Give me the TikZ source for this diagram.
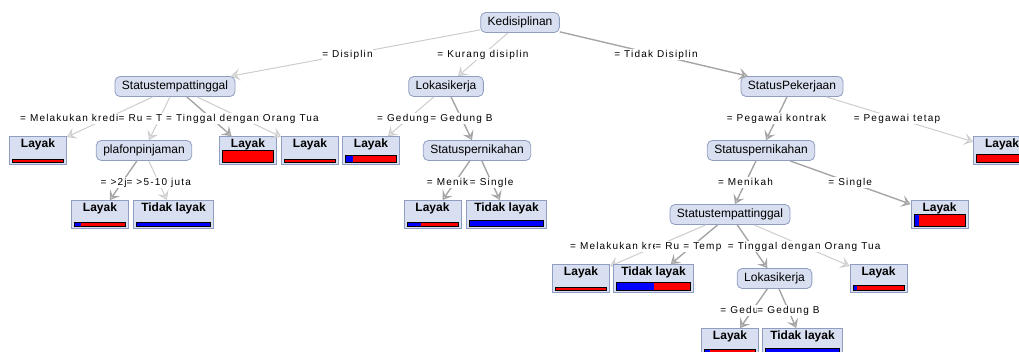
\documentclass[tikz,border=0pt]{standalone}
\usepackage{fontspec}
\setmainfont{Liberation Sans}
\newfontfamily\edgefont[LetterSpace=12]{Liberation Sans}
\usetikzlibrary{arrows.meta,calc}
\definecolor{nodefill}{RGB}{216,223,240}
\definecolor{nodeline}{RGB}{143,157,192}
\definecolor{edgelight}{RGB}{205,205,205}
\definecolor{edgedark}{RGB}{165,165,165}
\definecolor{tipfill}{RGB}{235,235,235}

% class distribution bar at the foot of a leaf: node, share of blue, bar height
\newcommand\leafbar[3]{%
  \fill[red] let \p1=(#1.south west), \p2=(#1.south east) in
    (\x1+3.5pt,\y1+2.5pt) rectangle (\x2-3.5pt,\y1+2.5pt+#3pt);
  \fill[blue] let \p1=(#1.south west), \p2=(#1.south east) in
    (\x1+3.5pt,\y1+2.5pt) rectangle ({\x1+3.5pt+#2*(\x2-\x1-7pt)},\y1+2.5pt+#3pt);
  \draw[black, line width=0.8pt] let \p1=(#1.south west), \p2=(#1.south east) in
    (\x1+3.5pt,\y1+2.5pt) rectangle (\x2-3.5pt,\y1+2.5pt+#3pt);
}

\begin{document}
\begin{tikzpicture}
[
    x=1pt, y=-1pt,
    grow=down, level distance=64pt, sibling distance=0pt,
    attr/.style={draw=nodeline, fill=nodefill, rounded corners=5pt, line width=0.8pt,
        minimum height=20pt, inner xsep=7pt, text height=8.8pt, text depth=2.6pt,
        font=\fontsize{12}{14}\selectfont},
    leaf/.style={draw=nodeline, fill=nodefill, line width=0.8pt, minimum width=57pt,
        inner xsep=8pt, inner ysep=2pt, text height=9pt, text depth=15pt,
        font=\bfseries\fontsize{12}{14}\selectfont},
    edge from parent/.style={draw=edgelight, line width=1pt,
        -{Stealth[length=9pt, width=12pt, inset=4pt, fill=tipfill]}},
    heavy/.style={draw=edgedark, line width=1.4pt},
    lbl/.style={midway, fill=white, inner xsep=0.5pt, inner ysep=1pt,
        text height=7.5pt, text depth=2pt, font=\edgefont\fontsize{10}{12}\selectfont},
    cut/.style={anchor=west, xshift=-#1},
]
\useasboundingbox (0,0) rectangle (1019,351);
\clip (0,0) rectangle (1019,351);

\node [attr] (kedisiplinan) at (520,22.5) {Kedisiplinan}
    child[xshift=-345pt] {node[attr] (stt1) {Statustempattinggal}
        child[xshift=-137pt] {node[leaf] (layak1) {Layak}}
        child[xshift=-31pt] {node[attr] (plafon) {plafonpinjaman}
            child[xshift=-44pt] {node[leaf] (layak2) {Layak} edge from parent[heavy]}
            child[xshift=29.5pt] {node[leaf] (tidak1) {Tidak layak}}}
        child[xshift=73pt] {node[leaf] (layak3) {Layak} edge from parent[heavy]}
        child[xshift=135pt] {node[leaf] (layak4) {Layak}}}
    child[xshift=-74pt] {node[attr] (lokasi1) {Lokasikerja}
        child[xshift=-75pt] {node[leaf] (layak5) {Layak}}
        child[xshift=31pt] {node[attr] (nikah1) {Statuspernikahan}
            child[xshift=-44.5pt] {node[leaf] (layak6) {Layak} edge from parent[heavy]}
            child[xshift=29.5pt] {node[leaf] (tidak2) {Tidak layak} edge from parent[heavy]}
            edge from parent[heavy]}}
    child[xshift=272pt] {node[attr] (pekerjaan) {StatusPekerjaan}
        child[xshift=-31pt] {node[attr] (nikah2) {Statuspernikahan}
            child[xshift=-31pt] {node[attr] (stt2) {Statustempattinggal}
                child[xshift=-149pt] {node[leaf] (layak8) {Layak}}
                child[xshift=-76.5pt] {node[leaf] (tidak3) {Tidak layak} edge from parent[heavy]}
                child[xshift=44.5pt] {node[attr] (lokasi2) {Lokasikerja}
                    child[xshift=-44.5pt] {node[leaf] (layak10) {Layak} edge from parent[heavy]}
                    child[xshift=28pt] {node[leaf] (tidak4) {Tidak layak} edge from parent[heavy]}
                    edge from parent[heavy]}
                child[xshift=148.5pt] {node[leaf] (layak9) {Layak}}
                edge from parent[heavy]}
            child[xshift=178.5pt] {node[leaf] (layak11) {Layak} edge from parent[heavy]}
            edge from parent[heavy]}
        child[xshift=210pt] {node[leaf] (layak7) {Layak}}
        edge from parent[heavy]};

% split values, half way between the centres
\path (kedisiplinan.center) -- (stt1.center) node[lbl] {= Disiplin};
\path (kedisiplinan.center) -- (lokasi1.center) node[lbl] {= Kurang disiplin};
\path (kedisiplinan.center) -- (pekerjaan.center) node[lbl] {= Tidak Disiplin};
\path (stt1.center) -- (layak1.center) node[lbl, cut=87pt] {= Melakukan kredi};
\path (stt1.center) -- (plafon.center) node[lbl, cut=41.5pt] {= Ru};
\path (stt1.center) -- (layak3.center) node[lbl, cut=66pt] {= T};
\path (stt1.center) -- (layak4.center) node[lbl] {= Tinggal dengan Orang Tua};
\path (plafon.center) -- (layak2.center) node[lbl, cut=22pt] {= >2j};
\path (plafon.center) -- (tidak1.center) node[lbl] {= >5-10 juta};
\path (lokasi1.center) -- (layak5.center) node[lbl, cut=32pt] {= Gedung};
\path (lokasi1.center) -- (nikah1.center) node[lbl] {= Gedung B};
\path (nikah1.center) -- (layak6.center) node[lbl, cut=28.5pt] {= Menik};
\path (nikah1.center) -- (tidak2.center) node[lbl] {= Single};
\path (pekerjaan.center) -- (nikah2.center) node[lbl] {= Pegawai kontrak};
\path (pekerjaan.center) -- (layak7.center) node[lbl] {= Pegawai tetap};
\path (nikah2.center) -- (stt2.center) node[lbl] {= Menikah};
\path (nikah2.center) -- (layak11.center) node[lbl] {= Single};
\path (stt2.center) -- (layak8.center) node[lbl, cut=86pt] {= Melakukan kre};
\path (stt2.center) -- (tidak3.center) node[lbl, cut=37pt] {= Ru};
\path (stt2.center) -- (lokasi2.center) node[lbl, cut=69.5pt] {= Temp};
\path (stt2.center) -- (layak9.center) node[lbl] {= Tinggal dengan Orang Tua};
\path (lokasi2.center) -- (layak10.center) node[lbl, cut=32.5pt] {= Gedu};
\path (lokasi2.center) -- (tidak4.center) node[lbl] {= Gedung B};

% leaves
\leafbar{layak1}{0}{3.5}
\leafbar{layak2}{0.12}{4.5}
\leafbar{tidak1}{1}{4}
\leafbar{layak3}{0}{12}
\leafbar{layak4}{0}{3.5}
\leafbar{layak5}{0.14}{7.5}
\leafbar{layak6}{0.28}{4.5}
\leafbar{tidak2}{1}{6}
\leafbar{layak7}{0}{8}
\leafbar{layak11}{0.09}{12}
\leafbar{layak8}{0}{3.5}
\leafbar{tidak3}{0.5}{8.5}
\leafbar{layak9}{0.08}{5}
\leafbar{layak10}{0.1}{5}
\leafbar{tidak4}{1}{6}
\end{tikzpicture}
\end{document}
